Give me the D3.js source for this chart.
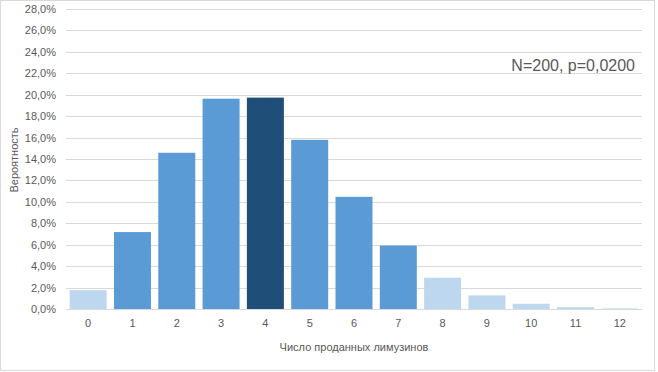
<!DOCTYPE html>
<html><head><meta charset="utf-8">
<script src="https://cdn.jsdelivr.net/npm/d3@7"></script>
<style>body{margin:0;background:#fff}svg{display:block}text{font-family:"Liberation Sans",Arial,sans-serif;fill:#595959}</style>
</head><body><svg id="c" width="658" height="372"></svg>
<script>
const categories = ["0","1","2","3","4","5","6","7","8","9","10","11","12"];
const probabilities = [0.0176,0.0718,0.1458,0.1963,0.1973,0.1579,0.1047,0.0592,0.0292,0.0127,0.0049,0.0017,0.0005];
const shades = ["light","mid","mid","mid","dark","mid","mid","mid","light","light","light","light","light"];
const yTicks = [0,0.02,0.04,0.06,0.08,0.10,0.12,0.14,0.16,0.18,0.20,0.22,0.24,0.26,0.28];
const titleText = "N=200, p=0,0200";
const xTitle = "Число проданных лимузинов";
const yTitle = "Вероятность";

const colors = {light:"#BDD7EE", mid:"#5B9BD5", dark:"#1F4E79"};
const svg = d3.select("#c");
const m = {l:66, r:16, t:9, b:63};
const W = 658, H = 372;
svg.append("rect").attr("x",0.5).attr("y",0.5).attr("width",W-4).attr("height",H-2).attr("fill","#fff").attr("stroke","#d9d9d9");
const x = d3.scaleBand().domain(categories).range([m.l, W-m.r]).paddingInner(0.165).paddingOuter(0.0825);
const y = d3.scaleLinear().domain([0,0.28]).range([H-m.b, m.t]);
const fmt = v => (v*100).toFixed(1).replace(".",",")+"%";

const g = svg.append("g");
g.selectAll("line.grid").data(yTicks).join("line").attr("class","grid")
  .attr("x1",m.l).attr("x2",W-m.r).attr("y1",d=>Math.round(y(d))+0.5).attr("y2",d=>Math.round(y(d))+0.5)
  .attr("stroke","#d9d9d9").attr("stroke-width",1);

const ya = d3.axisLeft(y).tickValues(yTicks).tickFormat(fmt).tickSize(0).tickPadding(10);
const yg = svg.append("g").attr("transform",`translate(${m.l},0)`).call(ya);
yg.select(".domain").remove();
yg.selectAll("text").attr("font-size",11).style("fill","#595959").attr("font-family","Liberation Sans, Arial, sans-serif");

svg.selectAll("rect.bar").data(categories).join("rect").attr("class","bar")
  .attr("x",d=>x(d)).attr("width",x.bandwidth())
  .attr("y",(d,i)=>y(probabilities[i])).attr("height",(d,i)=>y(0)-y(probabilities[i]))
  .attr("fill",(d,i)=>colors[shades[i]]);

const xa = d3.axisBottom(x).tickSize(0).tickPadding(10);
const xg = svg.append("g").attr("transform",`translate(0,${y(0)})`).call(xa);
xg.select(".domain").attr("stroke","#d9d9d9");
xg.selectAll("text").attr("font-size",11).style("fill","#595959").attr("font-family","Liberation Sans, Arial, sans-serif");

svg.append("text").attr("x",(m.l+W-m.r)/2).attr("y",351).attr("text-anchor","middle").attr("font-size",11).text(xTitle);
svg.append("text").attr("transform","translate(18,160) rotate(-90)").attr("text-anchor","middle").attr("font-size",11).text(yTitle);
svg.append("text").attr("x",635).attr("y",71).attr("text-anchor","end").attr("font-size",16).text(titleText);
</script></body></html>
